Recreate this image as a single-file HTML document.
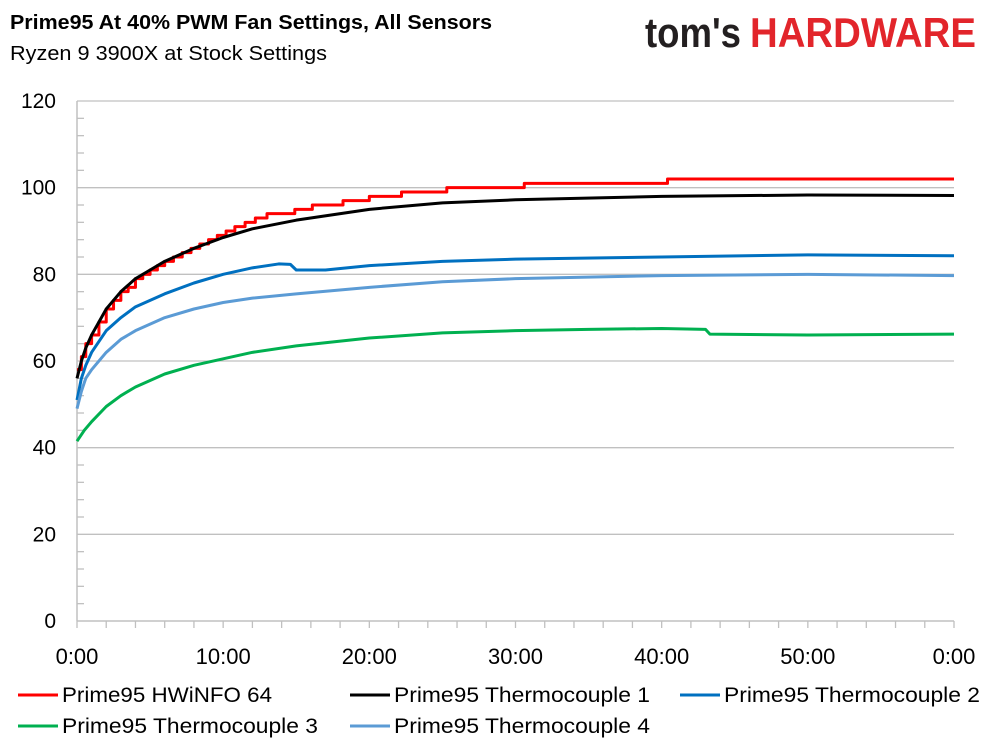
<!DOCTYPE html>
<html><head><meta charset="utf-8"><style>
body{margin:0;background:#fff;}
svg text{font-family:"Liberation Sans",sans-serif;}
</style></head><body>
<svg id="chart" width="989" height="741" viewBox="0 0 989 741" xmlns="http://www.w3.org/2000/svg">
<text x="10" y="29" font-size="20" font-weight="bold" fill="#000" textLength="482" lengthAdjust="spacingAndGlyphs">Prime95 At 40% PWM Fan Settings, All Sensors</text>
<text x="10" y="60" font-size="20" fill="#000" textLength="317" lengthAdjust="spacingAndGlyphs">Ryzen 9 3900X at Stock Settings</text>
<g>
<text x="645" y="47" font-size="42" font-weight="bold" fill="#231f20" textLength="96" lengthAdjust="spacingAndGlyphs">tom's</text>
<text x="750" y="47" font-size="42" font-weight="bold" fill="#e2252b" textLength="226" lengthAdjust="spacingAndGlyphs">HARDWARE</text>
</g>
<g id="grid"></g><g id="axes"></g><g id="series"></g><g id="legend"></g>
</svg>
<script>
const yTicks=[0,20,40,60,80,100,120];
const xTickLabels=["0:00","10:00","20:00","30:00","40:00","50:00","0:00"];
const seriesNames=["Prime95 HWiNFO 64","Prime95 Thermocouple 1","Prime95 Thermocouple 2","Prime95 Thermocouple 3","Prime95 Thermocouple 4"];
const seriesColors=["#ff0000","#000000","#0070c0","#00b050","#5b9bd5"];
const hwinfoT=[0,0.3,0.6,1,1.5,2,2.5,3,3.5,4,4.5,5,5.5,6,6.6,7.2,7.8,8.4,9,9.6,10.2,10.8,11.5,12.2,13,13.8,14.9,16.1,18.2,20,22.2,25.3,30.6,40.4,60];
const hwinfoV=[58,61,64,66,69,72,74,76,77,79,80,81,82,83,84,85,86,87,88,89,90,91,92,93,94,94,95,96,97,98,99,100,101,102,102];
const tc1T=[0,0.3,0.6,1,1.5,2,3,4,5,6,8,10,12,15,20,25,30,40,50,60];
const tc1V=[56,60,63,66,69,72,76,79,81,83,86,88.5,90.5,92.5,95,96.5,97.2,98,98.3,98.2];
const tc2T=[0,0.3,0.6,1,2,3,4,6,8,10,12,13.8,14.6,15,17,20,25,30,40,50,60];
const tc2V=[51,56,59,62,67,70,72.5,75.5,78,80,81.5,82.4,82.3,81,81,82,83,83.5,84,84.5,84.3];
const tc3T=[0,0.5,1,2,3,4,6,8,10,12,15,20,25,30,35,40,43,43.3,50,60];
const tc3V=[41.5,44,46,49.5,52,54,57,59,60.5,62,63.5,65.3,66.5,67,67.3,67.5,67.3,66.2,66,66.2];
const tc4T=[0,0.3,0.6,1,2,3,4,6,8,10,12,15,20,25,30,40,50,60];
const tc4V=[49,53,56,58,62,65,67,70,72,73.5,74.5,75.5,77,78.3,79,79.7,80,79.7];
const allT=[hwinfoT,tc1T,tc2T,tc3T,tc4T];
const allV=[hwinfoV,tc1V,tc2V,tc3V,tc4V];
const stepped=[true,false,false,false,false];

const X0=77,X1=954,Y0=621,Y1=101,XMAX=60,YMAX=120;
const xs=t=>X0+(X1-X0)*t/XMAX;
const ys=v=>Y0-(Y0-Y1)*v/YMAX;
const NS="http://www.w3.org/2000/svg";
function mk(tag,parent,attrs){const e=document.createElementNS(NS,tag);for(const k in attrs)e.setAttribute(k,attrs[k]);parent.appendChild(e);return e;}
const grid=document.getElementById('grid'),axes=document.getElementById('axes'),ser=document.getElementById('series'),leg=document.getElementById('legend');

yTicks.forEach(v=>{
  if(v>0){const g=mk('line',grid,{x1:X0,x2:X1,y1:ys(v),y2:ys(v),stroke:'#c0c0c0','stroke-width':1.3});
  
  }
  const t=mk('text',axes,{x:56,y:ys(v)+7,'font-size':21,'text-anchor':'end',fill:'#000'});
  t.textContent=v;
  
  
});
for(let v=4;v<YMAX;v+=4){ if(v%20) mk('line',axes,{x1:X0,x2:X0+7,y1:ys(v),y2:ys(v),stroke:'#c0c0c0','stroke-width':1.3}); }
const ya=mk('line',axes,{x1:X0,x2:X0,y1:Y1,y2:Y0,stroke:'#c0c0c0','stroke-width':1.5});


const xa=mk('line',axes,{x1:X0,x2:X1,y1:Y0,y2:Y0,stroke:'#c0c0c0','stroke-width':1.5});


for(let t=0;t<=XMAX;t+=2) mk('line',axes,{x1:xs(t),x2:xs(t),y1:Y0,y2:Y0+7,stroke:'#c0c0c0','stroke-width':1.3});
xTickLabels.forEach((l,i)=>{
  const t=mk('text',axes,{x:xs(i*10),y:664,'font-size':22,'text-anchor':'middle',fill:'#000'});
  t.textContent=l;
  
  
});
allT.forEach((T,i)=>{
  let d='',prevV=null;
  T.forEach((t,j)=>{const v=allV[i][j];
    if(j===0)d+='M'+xs(t)+' '+ys(v);
    else if(stepped[i]) d+=' L'+xs(t)+' '+ys(prevV)+' L'+xs(t)+' '+ys(v);
    else d+=' L'+xs(t)+' '+ys(v);
    prevV=v;});
  const p=mk('path',ser,{d:d,fill:'none',stroke:seriesColors[i],'stroke-width':3,'stroke-linejoin':'round'});
  
  
});
const legPos=[[18,695],[350,695],[680,695],[18,726],[350,726]];
const legLen=[210,256,256,256,256];
seriesNames.forEach((n,i)=>{
  const g=mk('g',leg,{});
  
  
  const [x,y]=legPos[i];
  mk('line',g,{x1:x,x2:x+40,y1:y,y2:y,stroke:seriesColors[i],'stroke-width':3});
  const t=mk('text',g,{x:x+44,y:y+7,'font-size':21,fill:'#000',textLength:legLen[i],lengthAdjust:'spacingAndGlyphs'});
  t.textContent=n;
});
</script>
</body></html>
